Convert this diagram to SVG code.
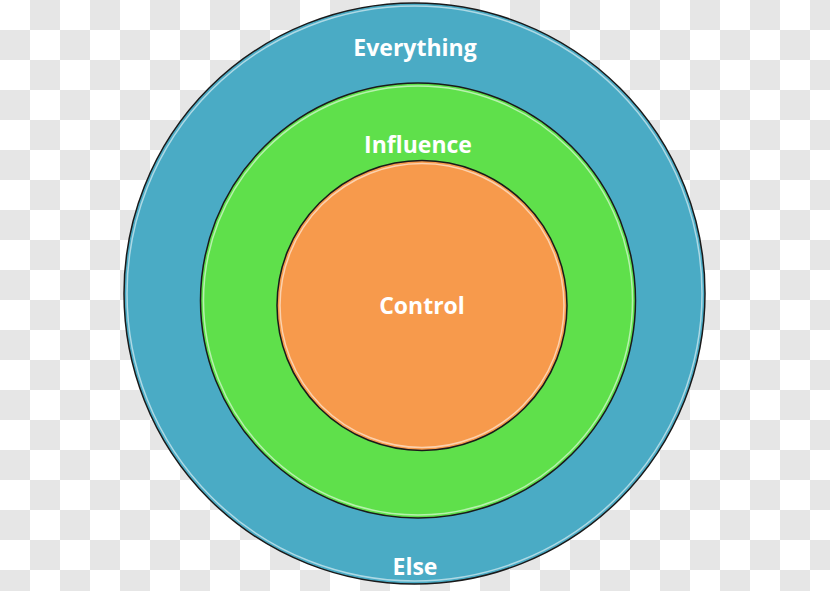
<svg xmlns="http://www.w3.org/2000/svg" width="830" height="591" viewBox="0 0 830 591">
<defs>
<pattern id="checker" x="0" y="0" width="60" height="60" patternUnits="userSpaceOnUse">
<rect width="60" height="60" fill="#ffffff"/>
<rect x="30" y="0" width="30" height="30" fill="#e6e6e6"/>
<rect x="0" y="30" width="30" height="30" fill="#e6e6e6"/>
</pattern>
<style>
.ring{stroke:#1a1a1a;stroke-width:1.5}
.hl{fill:none;stroke:#ffffff;stroke-opacity:0.55;stroke-width:1.5}
.lbl{font-family:"Open Sans","Liberation Sans",sans-serif;font-weight:bold;font-size:23px;fill:#ffffff;text-anchor:middle}
</style>
</defs>
<rect width="830" height="591" fill="url(#checker)"/>
<g id="everything">
<circle class="ring" cx="414.5" cy="293.5" r="290.5" fill="#4aabc5"/>
<circle class="hl" cx="414.5" cy="293.5" r="287.5"/>
<text class="lbl" x="415" y="56">Everything</text>
<text class="lbl" x="415" y="575">Else</text>
</g>
<g id="influence">
<circle class="ring" cx="418" cy="300.5" r="217.5" fill="#5fe04b"/>
<circle class="hl" cx="418" cy="300.5" r="214.5"/>
<text class="lbl" x="418" y="153">Influence</text>
</g>
<g id="control">
<circle class="ring" cx="422" cy="305.5" r="145" fill="#f79a4c"/>
<circle class="hl" cx="422" cy="305.5" r="142"/>
<text class="lbl" x="422" y="314">Control</text>
</g>
<g id="connectors"/>
</svg>
